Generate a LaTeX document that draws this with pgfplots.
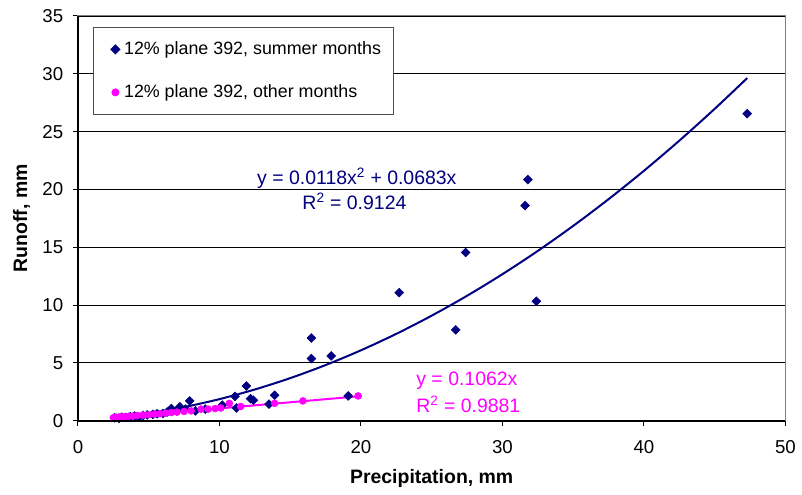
\documentclass[border=0pt]{standalone}
\usepackage{fontspec}
\setmainfont{Liberation Sans}
\usepackage{pgfplots}
\pgfplotsset{compat=1.18}
\definecolor{navy}{HTML}{000080}
\definecolor{mag}{HTML}{FF00FF}
\newcommand{\tickfont}{\fontsize{14}{16.8}\selectfont}
\newcommand{\legfont}{\fontsize{13.4}{16}\selectfont}
\newcommand{\labfont}{\fontsize{14.6}{17.5}\selectfont}
\pgfplotsset{mylegimg/.style={legend image code/.code={\path[draw=none,fill=none] (0pt,0pt) -- (14pt,0pt); \draw[##1, only marks] plot coordinates {(10.5pt,0pt)};}}}
\begin{document}
\tickfont
\begin{tikzpicture}
\begin{axis}[name=ax, scale only axis, width=531pt, height=303.75pt,
  xmin=0, xmax=50, ymin=0, ymax=35,
  xtick={0,10,...,50}, ytick={0,5,...,35},
  axis line style={draw=black!50, line width=0.75pt},
  tick pos=left, tick align=outside, major tick length=3.75pt,
  tick style={black, line width=0.75pt},
  ymajorgrids, major grid style={black, line width=0.6pt},
  /pgf/number format/assume math mode=true,
  ticklabel style={font=\tickfont},
  xticklabel style={yshift=-6pt},
  yticklabel style={xshift=-2.5pt},
  xlabel={\bfseries Precipitation, mm},
  ylabel={\bfseries Runoff, mm},
  xlabel style={font=\labfont, at={(axis description cs:0.5,-0.1440)}, anchor=center},
  ylabel style={font=\labfont, at={(axis description cs:-0.0795,0.5)}, anchor=center},
  legend style={at={(axis description cs:0.0212,0.9728)}, anchor=north west,
    draw=black!70, line width=0.75pt, inner xsep=6pt, inner ysep=7.5pt,
    row sep=14.5pt, font=\legfont, nodes={inner sep=3pt}},
  legend cell align=left,
  clip=false,
]
\addplot[only marks, mark=square*, mark size=2.35pt, mark options={rotate=45}, color=navy, mylegimg] coordinates {
(2.6,0.25)(2.9,0.2)(3.1,0.3)(3.4,0.28)(3.7,0.35)(4.0,0.4)(4.3,0.3)(4.6,0.45)
(4.9,0.5)(5.3,0.55)(5.6,0.6)(6.0,0.62)(6.3,0.75)(6.6,1.05)(7.0,0.85)(7.2,1.2)
(7.6,1.0)(7.9,1.71)(8.3,0.85)(9.0,1.0)(10.2,1.34)(11.1,2.1)(11.2,1.1)(11.9,3.0)
(12.2,1.9)(12.4,1.77)(13.5,1.43)(13.9,2.2)(16.5,7.15)(16.5,5.37)(17.9,5.6)
(19.1,2.14)(22.7,11.07)(26.7,7.85)(27.4,14.55)(31.6,18.6)(31.8,20.85)
(32.4,10.33)(47.3,26.55)};
\addlegendentry{12\% plane 392, summer months}
\addplot[only marks, mark=*, mark size=2.6pt, color=mag, mylegimg] coordinates {
(2.5,0.25)(2.7,0.3)(2.9,0.32)(3.1,0.33)(3.3,0.35)(3.6,0.38)(3.9,0.4)(4.2,0.45)
(4.6,0.48)(5.0,0.52)(5.4,0.57)(5.8,0.6)(6.2,0.65)(6.6,0.7)(7.0,0.74)(7.5,0.8)
(8.0,0.85)(8.7,1.0)(9.2,1.0)(9.7,1.05)(10.1,1.1)(10.7,1.5)(11.5,1.23)(13.9,1.5)
(15.9,1.71)(19.8,2.14)};
\addlegendentry{12\% plane 392, other months}
% trendlines
\addplot[navy, line width=1.5pt, smooth, forget plot] coordinates {
(2.5,0.2445)(5,0.6365)(7.5,1.176)(10,1.863)(12.5,2.6975)(15,3.6795)(17.5,4.809)
(20,6.086)(22.5,7.5105)(25,9.0825)(27.5,10.802)(30,12.669)(32.5,14.6835)
(35,16.8455)(37.5,19.155)(40,21.612)(42.5,24.2165)(45,26.9685)(47.3,29.631)};
\addplot[mag, line width=1.5pt, forget plot] coordinates {(2.5,0.2655)(19.8,2.1028)};
\node[navy, font=\labfont, anchor=base west, inner sep=0pt] at (axis cs:12.65,20.41) {y = 0.0118x\textsuperscript{2} + 0.0683x};
\node[navy, font=\labfont, anchor=base west, inner sep=0pt] at (axis cs:15.85,18.25) {R\textsuperscript{2} = 0.9124};
\node[mag, font=\labfont, anchor=base west, inner sep=0pt] at (axis cs:23.9,3.06) {y = 0.1062x};
\node[mag, font=\labfont, anchor=base west, inner sep=0pt] at (axis cs:23.9,0.73) {R\textsuperscript{2} = 0.9881};
\end{axis}
\draw[black, line width=1.3pt] (ax.north west) -- (ax.south west) -- (ax.south east);
\path ([xshift=-58.5pt,yshift=-52.5pt]ax.south west) rectangle ([xshift=12pt,yshift=12pt]ax.north east);
\end{tikzpicture}
\end{document}
